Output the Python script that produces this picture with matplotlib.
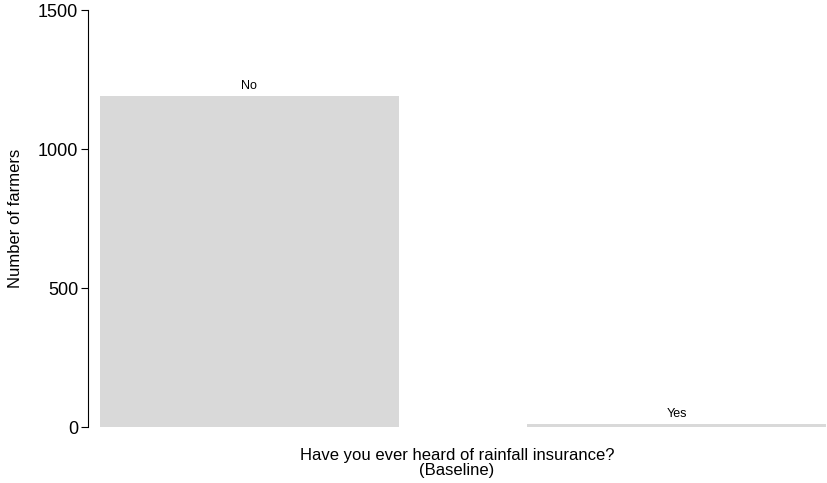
import numpy as np
import matplotlib.pyplot as plt

plt.rcParams['font.family'] = ['Liberation Sans', 'DejaVu Sans']

# data
answers = ['No', 'Yes']
farmers = [1191, 11]
y_ticks = [0, 500, 1000, 1500]

fig = plt.figure(figsize=(8.28, 4.83), dpi=100)
ax = fig.add_axes([88 / 828, 1 - 427 / 483, (826 - 88) / 828, (427 - 10) / 483])

x = np.arange(len(answers))
bars = ax.bar(x, farmers, width=0.7, color='#d9d9d9', linewidth=0)

for b, lab in zip(bars, answers):
    ax.annotate(lab, (b.get_x() + b.get_width() / 2, b.get_height()),
                xytext=(0, 3), textcoords='offset points',
                ha='center', va='bottom', fontsize=9)

ax.set_xlim(-0.378, 1.35)
ax.set_ylim(0, 1500)
ax.set_yticks(y_ticks)
ax.set_xticks([])
ax.tick_params(axis='y', labelsize=13, length=5, width=0.8, pad=2)

for s in ['top', 'right', 'bottom']:
    ax.spines[s].set_visible(False)
ax.spines['left'].set_linewidth(0.8)

ax.set_ylabel('Number of farmers', fontsize=12, labelpad=11)
ax.set_xlabel('Have you ever heard of rainfall insurance?\n(Baseline)',
              fontsize=12, labelpad=15, linespacing=1.05)

fig.savefig('out.png', dpi=100)
